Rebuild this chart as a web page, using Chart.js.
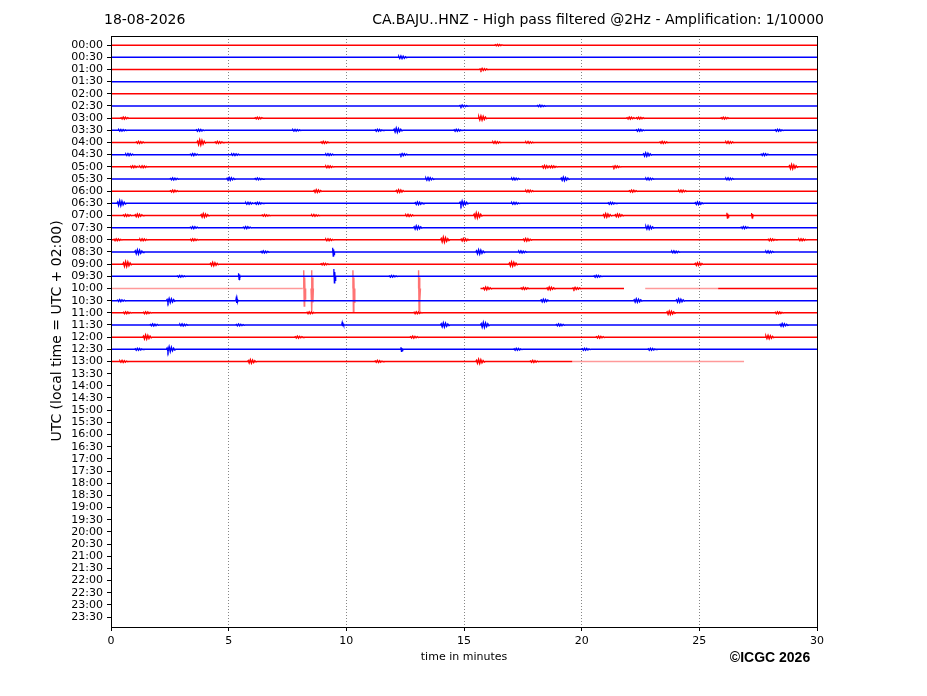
<!DOCTYPE html>
<html>
<head>
<meta charset="utf-8">
<script src="https://cdn.jsdelivr.net/npm/chart.js@4/dist/chart.umd.min.js"></script>
<style>
  body { margin: 0; background: #fff; }
  canvas { display: block; }
</style>
</head>
<body>
<canvas id="heli" width="927" height="696" style="width:927px;height:696px"></canvas>
<script>
// tick labels (one row per half hour)
const hourLabels = ['00:00','00:30','01:00','01:30','02:00','02:30','03:00','03:30',
  '04:00','04:30','05:00','05:30','06:00','06:30','07:00','07:30',
  '08:00','08:30','09:00','09:30','10:00','10:30','11:00','11:30',
  '12:00','12:30','13:00','13:30','14:00','14:30','15:00','15:30',
  '16:00','16:30','17:00','17:30','18:00','18:30','19:00','19:30',
  '20:00','20:30','21:00','21:30','22:00','22:30','23:00','23:30'];

const minuteTicks = [0, 5, 10, 15, 20, 25, 30];

// small bursts of noise on each row: [minute, amplitude in rows]
const bursts = [
  [[16.5,0.06]],
  [[12.4,0.11]],
  [[15.85,0.08]],
  [],
  [],
  [[15.0,0.07],[18.3,0.07]],
  [[0.6,0.08],[6.3,0.07],[15.8,0.17],[22.1,0.08],[22.5,0.07],[26.1,0.07]],
  [[0.5,0.07],[3.8,0.08],[7.9,0.07],[11.4,0.08],[12.2,0.17],[14.75,0.08],[22.5,0.08],[28.4,0.08]],
  [[1.25,0.08],[3.85,0.2],[4.6,0.08],[9.1,0.08],[16.4,0.08],[17.8,0.07],[23.5,0.08],[26.3,0.08]],
  [[0.8,0.08],[3.55,0.08],[5.3,0.07],[9.3,0.07],[12.45,0.08],[22.8,0.14],[27.8,0.08]],
  [[1.0,0.08],[1.4,0.08],[9.3,0.08],[18.5,0.11],[18.8,0.08],[21.5,0.08],[29.0,0.17]],
  [[2.7,0.08],[5.1,0.11],[6.3,0.07],[13.55,0.11],[17.2,0.08],[19.3,0.14],[22.9,0.08],[26.3,0.08]],
  [[2.7,0.08],[8.8,0.11],[12.3,0.11],[17.8,0.08],[22.2,0.08],[24.3,0.08]],
  [[0.45,0.2],[5.9,0.08],[6.3,0.08],[13.1,0.11],[15.0,0.17],[17.2,0.08],[21.3,0.08],[25.0,0.11]],
  [[0.7,0.08],[1.2,0.11],[4.0,0.14],[6.6,0.07],[8.7,0.07],[12.7,0.08],[15.6,0.2],[21.1,0.14],[21.6,0.11]],
  [[3.55,0.08],[5.8,0.08],[13.05,0.14],[22.9,0.14],[26.95,0.08]],
  [[0.3,0.08],[1.4,0.08],[3.55,0.08],[9.3,0.08],[14.2,0.2],[15.05,0.11],[17.7,0.11],[28.1,0.08],[29.4,0.08]],
  [[1.2,0.17],[6.55,0.08],[15.7,0.17],[17.5,0.08],[24.0,0.08],[28.0,0.08]],
  [[0.7,0.2],[4.4,0.14],[9.1,0.07],[17.1,0.17],[25.0,0.11]],
  [[3.0,0.07],[12.0,0.07],[20.7,0.08]],
  [[16.0,0.11],[17.6,0.08],[18.7,0.11],[19.8,0.08]],
  [[0.45,0.08],[2.55,0.17],[18.45,0.11],[22.4,0.14],[24.2,0.14]],
  [[0.7,0.08],[1.55,0.08],[8.5,0.08],[13.05,0.08],[23.8,0.14],[28.4,0.08]],
  [[1.85,0.08],[3.1,0.08],[5.5,0.07],[14.2,0.17],[15.9,0.2],[19.1,0.08],[28.6,0.11]],
  [[1.55,0.17],[8.0,0.08],[12.9,0.08],[20.8,0.08],[28.0,0.14]],
  [[1.2,0.08],[2.55,0.2],[17.3,0.08],[20.2,0.08],[23.0,0.08]],
  [[0.55,0.08],[6.0,0.14],[11.4,0.08],[15.7,0.17],[18.0,0.08]]
];

// sharp events: [row, minute, up, down] in rows
const spikes = [
  [14, 26.15, 0.22, 0.22], [14, 27.2, 0.2, 0.2],
  [17, 9.4, 0.35, 0.35],
  [19, 5.4, 0.25, 0.25], [19, 9.45, 0.6, 0.55],
  [21, 5.3, 0.22, 0.18],
  [23, 9.8, 0.18, 0.1],
  [25, 12.3, 0.18, 0.18],
  [20, 8.17, 1.5, 1.45], [20, 8.5, 1.5, 1.9], [20, 10.26, 1.5, 1.9], [20, 13.05, 1.5, 1.85]
];

// rows with gaps / flat stretches: [start, end, quiet?]
const rowSpans = {
  20: [[0, 8.15, 1], [15.7, 21.8, 0], [22.7, 25.8, 1], [25.8, 30, 0]],
  26: [[0, 19.6, 0], [19.6, 26.9, 1]]
};

const burstShape = [[0,0],[0.08,-0.5],[0.18,0.8],[0.3,-1],[0.42,0.9],[0.54,-0.8],[0.66,0.6],[0.78,-0.45],[0.9,0.25],[1,0]];
const burstWidth = 0.4;

const datasets = [];
for (let r = 0; r < bursts.length; r++) {
  const col = r % 2 === 0 ? '255,0,0' : '0,0,255';
  const spans = rowSpans[r] || [[0, 30, 0]];
  const normal = [], quiet = [];
  spans.forEach(function(s) {
    const target = s[2] ? quiet : normal;
    target.push({x: s[0], y: r});
    bursts[r].forEach(function(b) {
      if (b[0] < s[0] || b[0] > s[1]) return;
      const t0 = b[0] - burstWidth / 2;
      burstShape.forEach(function(p) {
        target.push({x: t0 + p[0] * burstWidth, y: r + p[1] * b[1]});
      });
    });
    target.push({x: s[1], y: r});
    target.push({x: s[1], y: null});
  });
  datasets.push({data: normal, borderColor: 'rgb(' + col + ')', borderWidth: 1.5});
  if (quiet.length) datasets.push({data: quiet, borderColor: 'rgba(' + col + ',0.4)', borderWidth: 1.5});
}

spikes.forEach(function(s) {
  const r = s[0], t = s[1], up = s[2], dn = s[3];
  const col = r % 2 === 0 ? '255,0,0' : '0,0,255';
  const big = up > 1;
  datasets.push({
    data: [
      {x: t, y: r}, {x: t + 0.02, y: r - up}, {x: t + 0.04, y: r + dn},
      {x: t + 0.06, y: r - up * 0.6}, {x: t + 0.08, y: r + dn * 0.6}, {x: t + 0.1, y: r}
    ],
    borderColor: big ? 'rgba(' + col + ',0.55)' : 'rgb(' + col + ')',
    borderWidth: big ? 1.4 : 1.2
  });
});

datasets.forEach(function(d) {
  d.pointRadius = 0;
  d.tension = 0;
  d.fill = false;
  d.spanGaps = false;
});

const textPlugin = {
  id: 'texts',
  afterDraw: function(chart) {
    const ctx = chart.ctx, a = chart.chartArea;
    ctx.save();
    ctx.strokeStyle = '#000';
    ctx.lineWidth = 1;
    ctx.strokeRect(Math.round(a.left) + 0.5, Math.round(a.top) + 0.5,
      Math.round(a.right - a.left), Math.round(a.bottom - a.top));
    ctx.fillStyle = '#000';
    ctx.textBaseline = 'middle';
    ctx.font = '14px "DejaVu Sans"';
    ctx.textAlign = 'left';
    ctx.fillText('18-08-2026', 104, 20);
    ctx.textAlign = 'right';
    ctx.fillText('CA.BAJU..HNZ - High pass filtered @2Hz - Amplification: 1/10000', 824, 20);
    ctx.textAlign = 'center';
    ctx.font = '11px "DejaVu Sans"';
    ctx.fillText('time in minutes', 464, 657);
    ctx.font = 'bold 14px "Liberation Sans"';
    ctx.fillText('\u00A9ICGC 2026', 770, 658);
    ctx.translate(57, 331);
    ctx.rotate(-Math.PI / 2);
    ctx.font = '14px "DejaVu Sans"';
    ctx.fillText('UTC (local time = UTC + 02:00)', 0, 0);
    ctx.restore();
  }
};

new Chart(document.getElementById('heli'), {
  type: 'line',
  data: {datasets: datasets},
  plugins: [textPlugin],
  options: {
    responsive: false,
    animation: false,
    devicePixelRatio: 1,
    layout: {padding: {left: 0, right: 110, top: 36, bottom: 0}},
    plugins: {legend: {display: false}, tooltip: {enabled: false}},
    scales: {
      x: {
        type: 'linear',
        min: 0,
        max: 30,
        afterFit: function(s) { s.height = 69; },
        afterBuildTicks: function(s) { s.ticks = minuteTicks.map(function(v) { return {value: v}; }); },
        ticks: {color: '#000', padding: 4, maxRotation: 0, font: {family: 'DejaVu Sans', size: 11}},
        grid: {color: 'rgba(0,0,0,0.6)', lineWidth: 0.8, tickLength: 4,
               tickColor: '#000', tickBorderDash: [], tickWidth: 1},
        border: {display: false, dash: [1, 2]}
      },
      y: {
        type: 'linear',
        reverse: true,
        min: -0.75,
        max: 47.82,
        afterFit: function(s) { s.width = 111; },
        afterBuildTicks: function(s) { s.ticks = hourLabels.map(function(l, i) { return {value: i}; }); },
        ticks: {
          color: '#000', padding: 4, autoSkip: false,
          font: {family: 'DejaVu Sans', size: 11},
          callback: function(v) { return hourLabels[v]; }
        },
        grid: {drawOnChartArea: false, tickLength: 4, tickColor: '#000', tickWidth: 1},
        border: {display: false}
      }
    }
  }
});
</script>
</body>
</html>
